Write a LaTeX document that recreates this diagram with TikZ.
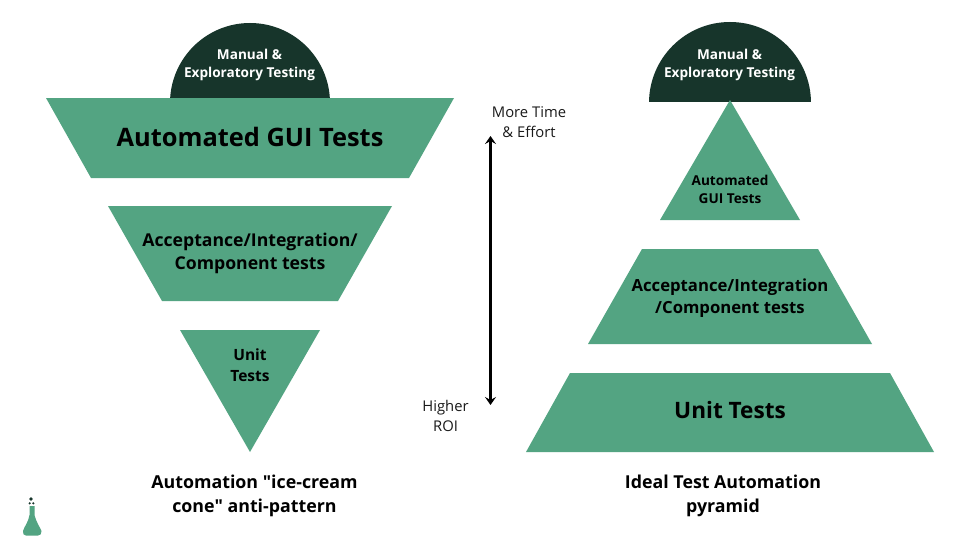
\documentclass[tikz,border=0pt]{standalone}
\usepackage{fontspec}
\usetikzlibrary{arrows.meta}
\setmainfont[Ligatures=TeXOff]{Open Sans}
\definecolor{sage}{HTML}{53A482}
\definecolor{forest}{HTML}{17352B}
\definecolor{ink}{HTML}{1A1A1A}
\newcommand{\fs}[1]{\fontsize{#1}{#1}\selectfont}
\begin{document}
\begin{tikzpicture}[x=1pt,y=-1pt,
  band/.style={fill=sage,draw=none},
  dome/.style={fill=forest,draw=none},
  lbl/.style={align=center,inner sep=0pt,text=black,font=\bfseries},
  domelbl/.style={align=center,inner sep=0pt,text=white,font=\bfseries\fs{13.6}},
  note/.style={align=center,inner sep=0pt,text=ink,font=\fs{14.8}}]
\useasboundingbox (0,0) rectangle (980,551);
\fill[white] (0,0) rectangle (980,551);
% left domes and shapes
\begin{scope}
\clip (150,0) rectangle (350,98);
\fill[dome] (250,103) circle (80);
\end{scope}
\fill[band] (46,98) -- (454,98) -- (409,178) -- (91,178) -- cycle;
\fill[band] (108,206) -- (392,206) -- (338,301) -- (162,301) -- cycle;
\fill[band] (180,330) -- (320,330) -- (250,452) -- cycle;
% right
\begin{scope}
\clip (630,0) rectangle (830,101);
\fill[dome] (730,103) circle (81);
\end{scope}
\fill[band] (730,100) -- (800,220) -- (660,220) -- cycle;
\fill[band] (642,249) -- (818,249) -- (872,344) -- (588,344) -- cycle;
\fill[band] (570,373) -- (890,373) -- (934,452) -- (526,452) -- cycle;
% texts
\node[domelbl] (m1) at (249.5,64.7) {Manual \&\\[4.4pt]Exploratory Testing};
\node[domelbl] (m2) at (729.5,64.7) {Manual \&\\[4.4pt]Exploratory Testing};
\node[lbl,font=\bfseries\fs{25.4}] (a1) at (250,137) {Automated GUI Tests};
\node[lbl,font=\bfseries\fs{17.65}] (a2) at (250,253.5) {Acceptance/Integration/\\[5.3pt]Component tests};
\node[lbl,font=\bfseries\fs{15.5}] (a3) at (250,365) {Unit\\[5.5pt]Tests};
\node[lbl,font=\bfseries\fs{13.6}] (b1) at (730,189) {Automated\\[4.4pt]GUI Tests};
\node[lbl,font=\bfseries\fs{16.7}] (b2) at (730,298.5) {Acceptance/Integration\\[5.3pt]/Component tests};
\node[lbl,font=\bfseries\fs{22.6}] (b3) at (730,410) {Unit Tests};
\node[lbl,font=\bfseries\fs{17.8}] (c1) at (254.5,495.5) {Automation "ice-cream\\[6.2pt]cone" anti-pattern};
\node[lbl,font=\bfseries\fs{17.8}] (c2) at (723,495.5) {Ideal Test Automation\\[6.2pt]pyramid};
\node[note] (n1) at (529,122) {More Time\\[5.2pt]\& Effort};
\node[note] (n2) at (445.5,415.5) {Higher\\[5.2pt]ROI};
% arrow
\coordinate (up) at (490.5,136);
\coordinate (down) at (490.5,405);
\draw[line width=2.2pt,black,{Stealth[length=8pt,width=11pt,inset=3pt]}-{Stealth[length=8pt,width=11pt,inset=3pt]}] (up) -- (down);
% flask logo
\fill[sage] (29.5,506) -- (34.5,506) -- (34.5,515) .. controls (36,522) and (41,529) .. (41.5,531) .. controls (42,534) and (40,535.5) .. (38,535.5) -- (26,535.5) .. controls (24,535.5) and (22.5,534) .. (23,531) .. controls (24,527) and (28.5,522) .. (29.5,515) -- cycle;
\fill[forest] (31,499) circle (1.9);
\fill[forest] (29.7,503.3) circle (1.2);
\fill[forest] (33.3,503.3) circle (1.2);
\end{tikzpicture}
\end{document}
